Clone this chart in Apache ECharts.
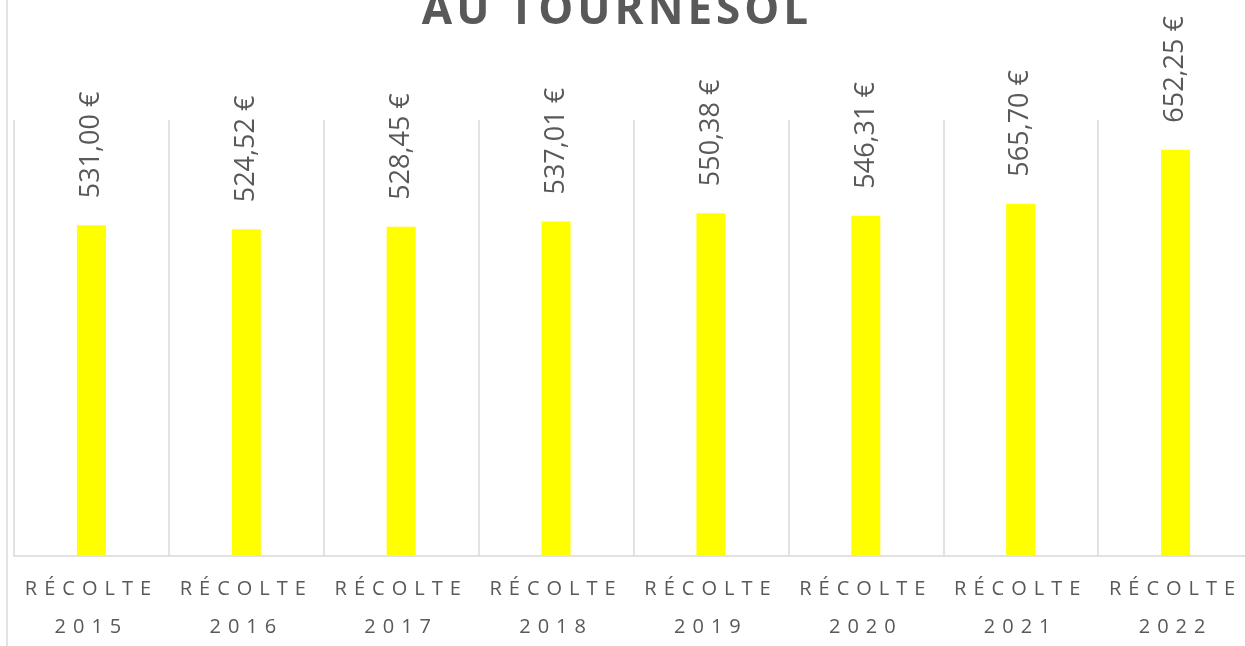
<!DOCTYPE html>
<html>
<head>
<meta charset="utf-8">
<script src="https://cdn.jsdelivr.net/npm/echarts@6/dist/echarts.min.js"></script>
<style>
  html, body { margin: 0; padding: 0; background: #ffffff; overflow: hidden; }
  #chart { width: 1262px; height: 646px; }
</style>
</head>
<body>
<div id="chart"></div>
<script>
const chartTitle = 'AU TOURNESOL';
const categories = ['RÉCOLTE\n2015', 'RÉCOLTE\n2016', 'RÉCOLTE\n2017', 'RÉCOLTE\n2018',
                    'RÉCOLTE\n2019', 'RÉCOLTE\n2020', 'RÉCOLTE\n2021', 'RÉCOLTE\n2022'];
const prices = [531.00, 524.52, 528.45, 537.01, 550.38, 546.31, 565.70, 652.25];
const valueMin = 0;
const valueMax = 700;

// Letter spacing for spaced labels (drawing only; text stays the same)
const SPACED = [[/^RÉCOLTE$|^\d{4}$/, 7], [/^AU TOURNESOL$/, 4]];
const origFill = CanvasRenderingContext2D.prototype.fillText;
CanvasRenderingContext2D.prototype.fillText = function (t, x, y, w) {
  let ls = 0;
  for (const [re, sp] of SPACED) if (re.test(String(t))) ls = sp;
  if (ls && 'letterSpacing' in this) {
    this.save();
    this.letterSpacing = ls + 'px';
    if (w === undefined) origFill.call(this, t, x, y);
    else origFill.call(this, t, x, y, w);
    this.restore();
  } else {
    if ('letterSpacing' in this && this.letterSpacing !== '0px') this.letterSpacing = '0px';
    if (w === undefined) origFill.call(this, t, x, y);
    else origFill.call(this, t, x, y, w);
  }
};

const gridColor = '#d9d9d9';
const textColor = '#595959';

const chart = echarts.init(document.getElementById('chart'), null, { renderer: 'canvas' });
chart.setOption({
  animation: false,
  backgroundColor: '#ffffff',
  grid: { left: 14, top: 120, width: 1239, height: 442, containLabel: false },
  graphic: [
    { type: 'line', shape: { x1: 7, y1: 0, x2: 7, y2: 646 }, style: { stroke: gridColor, lineWidth: 1.5 } },
    { type: 'text', x: 617, y: 11, style: { text: chartTitle, fill: textColor, fontSize: 44, fontWeight: 'bold',
      fontFamily: 'Open Sans', align: 'center', verticalAlign: 'middle' } }
  ],
  xAxis: {
    type: 'category',
    data: categories,
    boundaryGap: true,
    axisLine: { show: true, lineStyle: { color: gridColor, width: 1.5 } },
    axisTick: { show: false },
    splitLine: { show: true, interval: 0, lineStyle: { color: gridColor, width: 1.5 } },
    axisLabel: { interval: 0, margin: 14, fontSize: 20, lineHeight: 38, color: textColor, fontFamily: 'Open Sans' }
  },
  yAxis: { type: 'value', min: valueMin, max: valueMax, show: false, splitLine: { show: false } },
  series: [{
    type: 'bar',
    data: prices,
    barWidth: 29,
    itemStyle: { color: '#FFFF00' },
    label: {
      show: true, position: 'top', distance: 27, rotate: 90, align: 'left', verticalAlign: 'middle',
      fontSize: 27, color: textColor, fontFamily: 'Open Sans',
      formatter: p => p.value.toFixed(2).replace('.', ',') + ' €'
    }
  }]
});
</script>
</body>
</html>
